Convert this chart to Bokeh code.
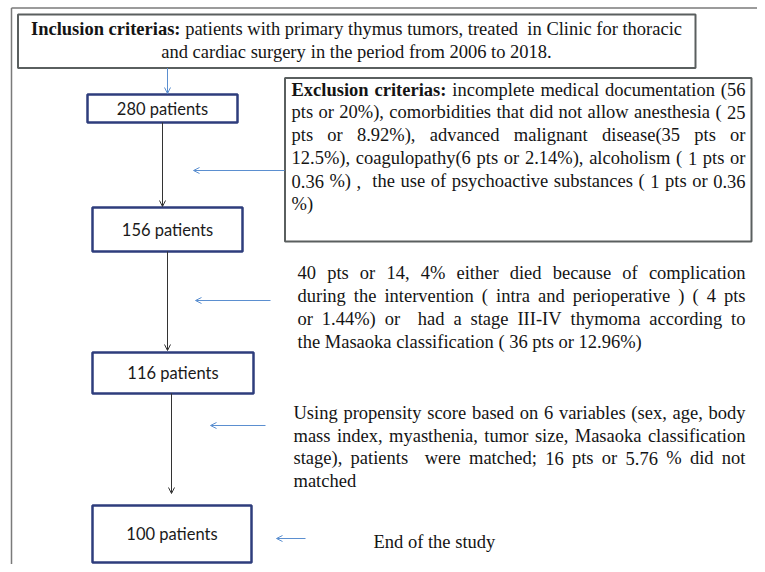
from bokeh.plotting import figure
from bokeh.models import Range1d, ColumnDataSource, Arrow, OpenHead
from bokeh.embed import file_html
from bokeh.resources import INLINE
from bokeh.core.properties import value

# ---------------- data (texts) ----------------
patient_counts = [280, 156, 116, 100]
patient_labels = [f"{n} patients" for n in patient_counts]

inclusion_bold = "Inclusion criterias:"
inclusion_lines = [
    "patients with primary thymus tumors, treated  in Clinic for thoracic",
    "and cardiac surgery in the period from 2006 to 2018.",
]

exclusion_bold = "Exclusion criterias:"
exclusion_lines = [
    "incomplete medical documentation (56",
    "pts or 20%), comorbidities that did not allow anesthesia ( 25",
    "pts or 8.92%), advanced malignant disease(35 pts or",
    "12.5%), coagulopathy(6 pts or 2.14%), alcoholism ( 1 pts or",
    "0.36 %) ,  the use of psychoactive substances ( 1 pts or 0.36",
    "%)",
]

death_lines = [
    "40 pts or 14, 4% either died because of complication",
    "during the intervention ( intra and perioperative ) ( 4 pts",
    "or 1.44%) or  had a stage III-IV thymoma according to",
    "the Masaoka classification ( 36 pts or 12.96%)",
]

matching_lines = [
    "Using propensity score based on 6 variables (sex, age, body",
    "mass index, myasthenia, tumor size, Masaoka classification",
    "stage), patients  were matched; 16 pts or 5.76 % did not",
    "matched",
]

end_text = "End of the study"

# ---------------- font metrics (Times / Liberation Serif, per 1000 em) ----------------
REG = {' ': 250, '!': 333, '%': 833, '(': 333, ')': 333, ',': 250, '-': 333, '.': 250,
       ':': 278, ';': 278}
for d in "0123456789":
    REG[d] = 500
REG.update(dict(A=722, B=667, C=667, D=722, E=611, F=556, G=722, H=722, I=333, J=389,
                K=722, L=611, M=889, N=722, O=722, P=556, Q=722, R=667, S=556, T=611,
                U=722, V=722, W=944, X=722, Y=722, Z=611))
REG.update(dict(a=444, b=500, c=444, d=500, e=444, f=333, g=500, h=500, i=278, j=278,
                k=500, l=278, m=778, n=500, o=500, p=500, q=500, r=333, s=389, t=278,
                u=500, v=500, w=722, x=500, y=500, z=444))
BOLD = dict(REG)
BOLD.update({' ': 250, ':': 333, 'E': 667, 'I': 389, 'a': 500, 'c': 444, 'i': 278,
             'l': 278, 'n': 556, 'o': 500, 'r': 444, 's': 389, 't': 333, 'u': 556,
             'x': 500})

FS = 18.5  # px


def wlen(word, bold):
    tab = BOLD if bold else REG
    return sum(tab.get(ch, 500) for ch in word) * FS / 1000.0


def tokens(segments):
    """segments: list of (text, bold) -> list of (word, bold, spaces_before)"""
    out = []
    pending = 0
    for text, bold in segments:
        i = 0
        n = len(text)
        while i < n:
            if text[i] == ' ':
                pending += 1
                i += 1
                continue
            j = i
            while j < n and text[j] != ' ':
                j += 1
            out.append((text[i:j], bold, pending if out else 0))
            pending = 0
            i = j
    return out


reg_src = dict(x=[], y=[], text=[])
bold_src = dict(x=[], y=[], text=[])


def place(segments, y, left, right=None, mode="left", center=None):
    toks = tokens(segments)
    fixed = []
    for k, (w, b, sp) in enumerate(toks):
        if k > 0 and sp == 0:
            sp = 1
        fixed.append((w, b, sp))
    widths = [wlen(w, b) for w, b, _ in fixed]
    space_w = REG[' '] * FS / 1000.0
    gaps = [sp * space_w for _, _, sp in fixed]
    natural = sum(widths) + sum(gaps)
    if mode == "justify" and len(fixed) > 1:
        total_sp = sum(sp for _, _, sp in fixed)
        extra = (right - left) - natural
        gaps = [g + extra * sp / total_sp for g, (_, _, sp) in zip(gaps, fixed)]
        x = left
    elif mode == "center":
        x = center - natural / 2.0
    else:
        x = left
    for (w, b, _), wd, g in zip(fixed, widths, gaps):
        x += g
        src = bold_src if b else reg_src
        src["x"].append(x)
        src["y"].append(y)
        src["text"].append(w)
        x += wd


# ---------------- figure ----------------
W, H = 757, 564
p = figure(width=W, height=H, x_range=Range1d(0, W), y_range=Range1d(H, 0),
           output_backend="svg", toolbar_location=None,
           x_axis_location=None, y_axis_location=None, min_border=0)
p.grid.visible = False
p.outline_line_color = None
p.background_fill_color = "white"
p.border_fill_color = "white"

# outer frame (top and left edges)
p.segment(x0=[11, 11], y0=[7.5, 7.5], x1=[765, 11], y1=[7.5, 572],
          line_color="#7a7a7a", line_width=1.5)

# inclusion / exclusion boxes
p.quad(left=[17.5, 284.5], right=[695, 751], top=[14, 77.5], bottom=[67.5, 241],
       fill_color="white", line_color="#5a5f5f", line_width=2)

# patient boxes
box_left = [87, 92, 92, 92]
box_right = [237, 242, 253, 251]
box_top = [94, 207, 352, 505]
box_bottom = [122, 251, 393, 562]
p.quad(left=box_left, right=box_right, top=box_top, bottom=box_bottom,
       fill_color="white", line_color="#2e3d7c", line_width=2.5)
label_x = [(l + r) / 2 for l, r in zip(box_left, box_right)]
label_y = [(t + b) / 2 for t, b in zip(box_top, box_bottom)]
p.text(x=label_x, y=label_y, text=patient_labels, text_font=value("Lato"),
       text_font_size="16.5px", text_color="#1a1a1a", text_align="center",
       text_baseline="middle")

# black vertical arrows between boxes
arr_x = [162, 167, 171]
arr_y0 = [122, 251, 393]
arr_y1 = [206, 350, 493]
for xa, ya, yb in zip(arr_x, arr_y0, arr_y1):
    p.add_layout(Arrow(end=OpenHead(size=6, line_color="#333333", line_width=1),
                       x_start=xa, y_start=ya, x_end=xa, y_end=yb,
                       line_color="#333333", line_width=1))

# blue arrows
blue = "#5b8fd0"
p.add_layout(Arrow(end=OpenHead(size=6, line_color=blue, line_width=1),
                   x_start=167, y_start=67.5, x_end=167, y_end=93,
                   line_color=blue, line_width=1))
bx0 = [284, 270, 265, 305]
bx1 = [193, 195, 210, 276]
by = [170, 300, 425, 538]
for xs, xe, yy in zip(bx0, bx1, by):
    p.add_layout(Arrow(end=OpenHead(size=6, line_color=blue, line_width=1),
                       x_start=xs, y_start=yy, x_end=xe, y_end=yy,
                       line_color=blue, line_width=1))

# ---------------- texts ----------------
inc_center = 356
place([(inclusion_bold, True), (inclusion_lines[0], False)], 28, None, mode="center",
      center=inc_center)
place([(inclusion_lines[1], False)], 51, None, mode="center", center=inc_center)

ex_left, ex_right = 291, 745
ex_y = [89, 111.5, 134.5, 157.5, 180.5, 203.5]
for k, line in enumerate(exclusion_lines):
    segs = [(exclusion_bold, True), (line, False)] if k == 0 else [(line, False)]
    mode = "justify" if k < len(exclusion_lines) - 1 else "left"
    place(segs, ex_y[k], ex_left, ex_right, mode=mode)

d_left, d_right = 297, 745
d_y = [272, 295, 318, 341]
for k, line in enumerate(death_lines):
    mode = "justify" if k < len(death_lines) - 1 else "left"
    place([(line, False)], d_y[k], d_left, d_right, mode=mode)

m_left, m_right = 293, 745
m_y = [412, 435, 457.5, 480]
for k, line in enumerate(matching_lines):
    mode = "justify" if k < len(matching_lines) - 1 else "left"
    place([(line, False)], m_y[k], m_left, m_right, mode=mode)

place([(end_text, False)], 541, 373, mode="left")

p.text(x="x", y="y", text="text", source=ColumnDataSource(reg_src),
       text_font=value("Liberation Serif"), text_font_size=f"{FS}px",
       text_color="#141414", text_align="left", text_baseline="middle")
p.text(x="x", y="y", text="text", source=ColumnDataSource(bold_src),
       text_font=value("Liberation Serif"), text_font_size=f"{FS}px",
       text_font_style="bold", text_color="#141414", text_align="left",
       text_baseline="middle")

open("out.html", "w").write(file_html(p, INLINE))
